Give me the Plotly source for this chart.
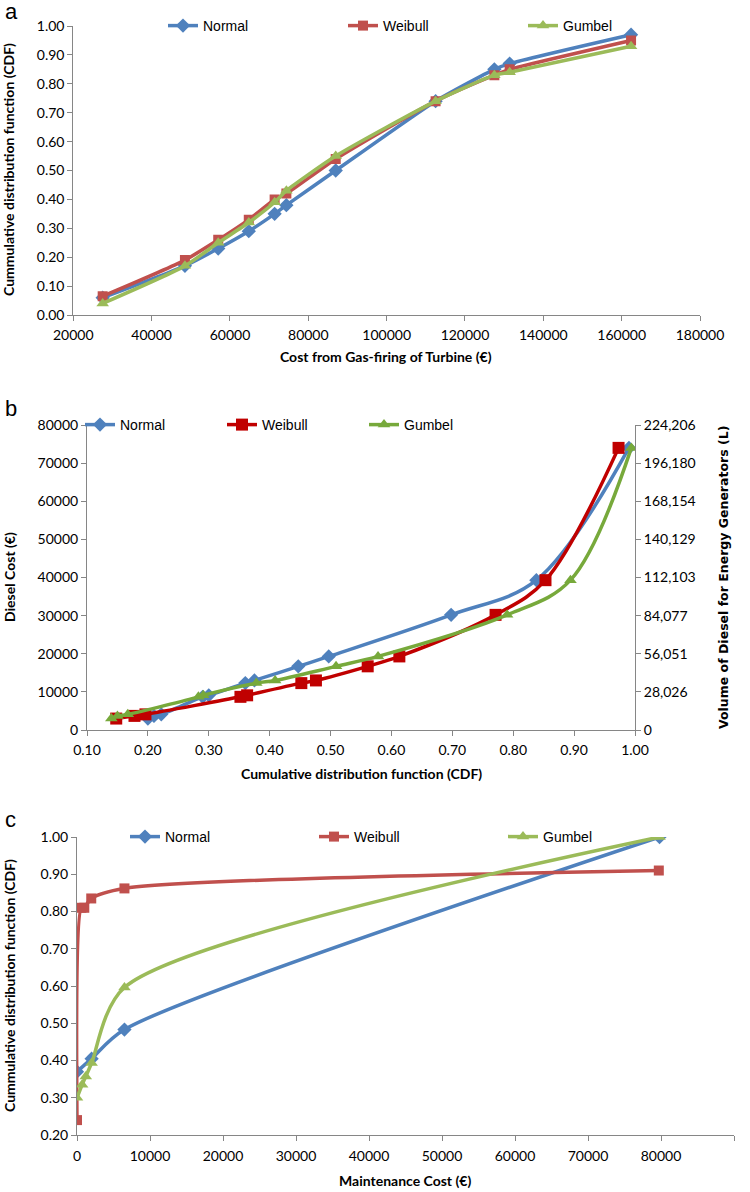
import plotly.graph_objects as go

# ---------------- data ----------------
# panel a : cost from gas-firing of turbine (EUR) vs CDF
a_cost = [27500, 48500, 57000, 64800, 71400, 74400, 87000, 112500, 127500, 131400, 162400]
a_normal = [0.06, 0.17, 0.23, 0.29, 0.35, 0.38, 0.50, 0.74, 0.85, 0.87, 0.97]
a_weibull = [0.065, 0.19, 0.26, 0.33, 0.40, 0.42, 0.54, 0.74, 0.83, 0.85, 0.95]
a_gumbel = [0.04, 0.17, 0.25, 0.32, 0.39, 0.43, 0.55, 0.74, 0.83, 0.84, 0.93]

# panel b : CDF vs diesel cost (EUR)
b_cost = [3000, 3700, 4100, 8700, 9100, 12300, 13000, 16700, 19300, 30200, 39300, 74000]
b_normal_cdf = [0.20, 0.21, 0.222, 0.29, 0.30, 0.36, 0.375, 0.447, 0.497, 0.698, 0.838, 0.99]
b_weibull_cdf = [0.148, 0.178, 0.196, 0.352, 0.363, 0.452, 0.476, 0.561, 0.613, 0.771, 0.853, 0.973]
b_gumbel_cdf = [0.14, 0.15, 0.167, 0.283, 0.291, 0.378, 0.409, 0.509, 0.578, 0.79, 0.894, 0.994]
b_volume_ticks = [0, 28025.75, 56051.5, 84077.25, 112103, 140128.75, 168154.5, 196180.25, 224206]
b_volume_labels = ["0", "28,026", "56,051", "84,077", "112,103", "140,129", "168,154", "196,180", "224,206"]

# panel c : maintenance cost (EUR) vs CDF
c_normal_x = [0, 2000, 6500, 79800]
c_normal_y = [0.37, 0.405, 0.483, 1.00]
c_weibull_x = [0, 600, 1000, 1950, 6500, 79700]
c_weibull_y = [0.24, 0.81, 0.81, 0.835, 0.862, 0.91]
c_gumbel_x = [0, 700, 1200, 2000, 6500, 79800]
c_gumbel_y = [0.30, 0.335, 0.357, 0.393, 0.596, 1.00]

series_names = ["Normal", "Weibull", "Gumbel"]

# ---------------- styling ----------------
W, H = 750, 1192
BLUE = "#4F81BD"
RED = "#C0504D"
GREEN = "#9BBB59"
RED_B = "#C00000"
GREEN_B = "#77A93B"
AXIS = "#868686"
TICKFONT = dict(family="Lato, Liberation Sans, sans-serif", size=14, color="#000000")
TITLEFONT = dict(family="Lato, Liberation Sans, sans-serif", size=14, color="#000000")
RTITLEFONT = dict(family="DejaVu Sans, Verdana, sans-serif", size=12.5, color="#000000")
LEGFONT = dict(family="Liberation Sans, Arial, sans-serif", size=14, color="#000000")


def px_x(p):
    return p / W


def px_y(p):
    return 1 - p / H


fig = go.Figure()

styles_ac = [(BLUE, "diamond", 11), (RED, "square", 10), (GREEN, "triangle-up", 11)]
styles_b = [(BLUE, "diamond", 11), (RED_B, "square", 12), (GREEN_B, "triangle-up", 11)]

# panel a
for name, ys, (col, sym, sz) in zip(series_names, [a_normal, a_weibull, a_gumbel], styles_ac):
    fig.add_trace(go.Scatter(
        x=a_cost, y=ys, name=name, mode="lines+markers",
        line=dict(color=col, width=3.5, shape="spline", smoothing=0.6),
        marker=dict(color=col, symbol=sym, size=sz),
        xaxis="x", yaxis="y", legend="legend"))

# panel b
for name, xs, (col, sym, sz) in zip(series_names, [b_normal_cdf, b_weibull_cdf, b_gumbel_cdf], styles_b):
    fig.add_trace(go.Scatter(
        x=xs, y=b_cost, name=name, mode="lines+markers",
        line=dict(color=col, width=3.5, shape="spline", smoothing=1.0),
        marker=dict(color=col, symbol=sym, size=sz),
        xaxis="x2", yaxis="y2", legend="legend2"))

# panel c
for name, xs, ys, (col, sym, sz) in zip(series_names,
                                        [c_normal_x, c_weibull_x, c_gumbel_x],
                                        [c_normal_y, c_weibull_y, c_gumbel_y], styles_ac):
    fig.add_trace(go.Scatter(
        x=xs, y=ys, name=name, mode="lines+markers",
        line=dict(color=col, width=3.5, shape="spline", smoothing=0.8),
        marker=dict(color=col, symbol=sym, size=sz),
        xaxis="x3", yaxis="y4", legend="legend3"))

# invisible trace so the secondary (volume) axis is drawn
fig.add_trace(go.Scatter(x=[None], y=[None], xaxis="x2", yaxis="y3", showlegend=False,
                         hoverinfo="skip", mode="lines"))

common_ax = dict(showgrid=False, zeroline=False, showline=True, linecolor=AXIS, linewidth=1,
                 ticks="outside", ticklen=5, tickcolor=AXIS, tickwidth=1, tickfont=TICKFONT,
                 fixedrange=True, automargin=False)

fig.update_layout(
    width=W, height=H,
    margin=dict(l=0, r=0, t=0, b=0, pad=0, autoexpand=False),
    paper_bgcolor="white", plot_bgcolor="white",
    showlegend=True,
    # panel a
    xaxis=dict(common_ax, domain=[px_x(73.3), px_x(700)], range=[20000, 180000], dtick=20000,
               tickformat="d", anchor="y", ticklabelstandoff=2),
    yaxis=dict(common_ax, domain=[px_y(315), px_y(26)], range=[0, 1.0], dtick=0.1,
               tickformat=".2f", anchor="x"),
    # panel b
    xaxis2=dict(common_ax, domain=[px_x(87), px_x(635)], range=[0.1, 1.0], dtick=0.1,
                tickformat=".2f", anchor="y2", ticklabelstandoff=2),
    yaxis2=dict(common_ax, domain=[px_y(730), px_y(425)], range=[0, 80000], dtick=10000,
                tickformat="d", anchor="x2"),
    yaxis3=dict(common_ax, range=[0, 224206], tickvals=b_volume_ticks, ticktext=b_volume_labels,
                overlaying="y2", side="right", anchor="x2"),
    # panel c
    xaxis3=dict(common_ax, domain=[px_x(77), px_x(734)], range=[0, 90000], dtick=10000,
                tickformat="d", anchor="y4", ticklabelstandoff=3),
    yaxis4=dict(common_ax, domain=[px_y(1135), px_y(837)], range=[0.2, 1.0], dtick=0.1,
                tickformat=".2f", anchor="x3"),
    legend=dict(orientation="h", x=px_x(163), y=px_y(26), xanchor="left", yanchor="middle",
                entrywidth=135, font=LEGFONT, bgcolor="rgba(0,0,0,0)", itemclick=False),
    legend2=dict(orientation="h", x=px_x(80), y=px_y(425), xanchor="left", yanchor="middle",
                 entrywidth=97, font=LEGFONT, bgcolor="rgba(0,0,0,0)", itemclick=False),
    legend3=dict(orientation="h", x=px_x(125), y=px_y(837), xanchor="left", yanchor="middle",
                 entrywidth=144, font=LEGFONT, bgcolor="rgba(0,0,0,0)", itemclick=False),
)

ann = []
# panel letters
for letter, ypix in [("a", 11), ("b", 408), ("c", 820)]:
    ann.append(dict(text=letter, x=px_x(3), y=px_y(ypix), xref="paper", yref="paper",
                    xanchor="left", yanchor="middle", showarrow=False,
                    font=dict(family="Liberation Sans, Arial, sans-serif", size=22, color="#000")))


def btitle(text, xp, yp, angle=0, font=TITLEFONT):
    return dict(text="<b>" + text + "</b>", x=px_x(xp), y=px_y(yp), xref="paper", yref="paper",
                xanchor="center", yanchor="middle", showarrow=False, textangle=angle,
                font=font)


ann.append(btitle("Cost from Gas-firing of Turbine (€)", 386, 356))
ann.append(btitle("Cummulative distribution function (CDF)", 9, 170, -90))
ann.append(btitle("Cumulative distribution function (CDF)", 361, 773))
ann.append(btitle("Diesel Cost (€)", 9, 577, -90))
ann.append(btitle("Volume of Diesel for Energy Generators (L)", 723, 578, -90, RTITLEFONT))
ann.append(btitle("Maintenance Cost (€)", 405, 1180))
ann.append(btitle("Cummulative distribution function (CDF)", 9, 986, -90))

fig.update_layout(annotations=ann)

# remove the default page margin so the figure sits at the window's top-left corner
fig.write_html("out.html", config={"displayModeBar": False},
               post_script="document.body.style.margin='0';")
